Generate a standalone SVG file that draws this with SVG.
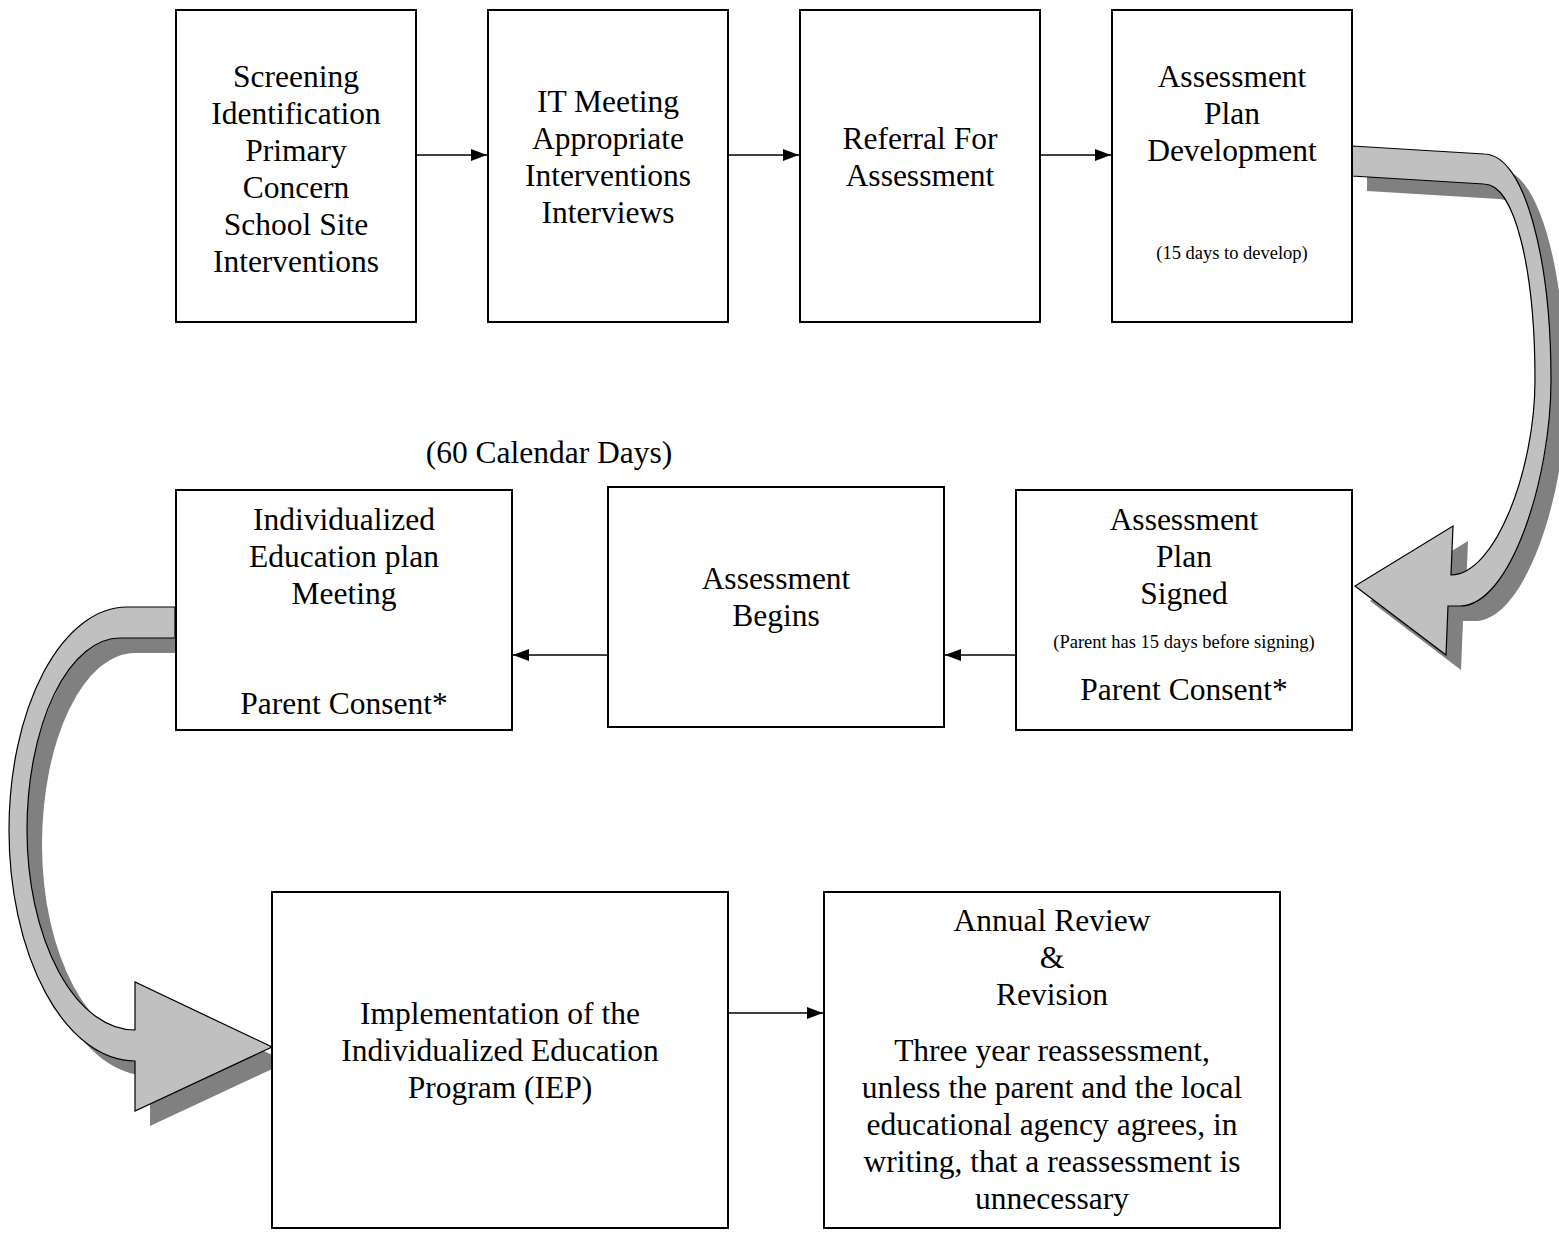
<svg xmlns="http://www.w3.org/2000/svg" width="1559" height="1236" viewBox="0 0 1559 1236">
<style>
.box{fill:#fff;stroke:#000;stroke-width:2}
.t{font-family:"Liberation Serif","Times New Roman",serif;font-size:31.5px;fill:#000;text-anchor:middle}
.s{font-family:"Liberation Serif","Times New Roman",serif;font-size:18.5px;fill:#000;text-anchor:middle}
.con{stroke:#000;stroke-width:1.6;fill:none;marker-end:url(#ah)}
.band{fill:#c0c0c0;stroke:#000;stroke-width:1.2;stroke-linejoin:miter}
.shadow{fill:#808080}
</style>
<defs>
<marker id="ah" markerWidth="16" markerHeight="12" refX="16" refY="6" orient="auto" markerUnits="userSpaceOnUse">
<path d="M0,0 L16,6 L0,12 Z" fill="#000"/>
</marker>
<path id="rightArrow" d="M1352,146 L1484,154 C1525,154 1551,260 1551,380 C1551,480 1510,606 1460,606 L1448,606 L1446,655 L1355,586 L1453,526 L1451,575 C1495,575 1535,470 1535,380 C1535,270 1515,184 1484,184 L1352,176 Z"/>
<path id="leftArrow" d="M175,607 L127,607 A118,223 0 0 0 9,830 A126,231 0 0 0 135,1061 L135,1111 L272,1047 L135,982 L135,1030 A108,200 0 0 1 27,830 A93,192 0 0 1 120,638 L175,638 Z"/>
</defs>
<rect width="1559" height="1236" fill="#fff"/>
<g id="curved-connectors">
<use href="#rightArrow" class="shadow" transform="translate(15,15)"/>
<use href="#leftArrow" class="shadow" transform="translate(15,15)"/>
<use href="#rightArrow" class="band"/>
<use href="#leftArrow" class="band"/>
</g>
<g id="n1"><rect class="box" x="176" y="10" width="240" height="312"/>
<text class="t" x="296" y="87">Screening</text>
<text class="t" x="296" y="124">Identification</text>
<text class="t" x="296" y="161">Primary</text>
<text class="t" x="296" y="198">Concern</text>
<text class="t" x="296" y="235">School Site</text>
<text class="t" x="296" y="272">Interventions</text></g>
<g id="n2"><rect class="box" x="488" y="10" width="240" height="312"/>
<text class="t" x="608" y="112">IT Meeting</text>
<text class="t" x="608" y="149">Appropriate</text>
<text class="t" x="608" y="186">Interventions</text>
<text class="t" x="608" y="223">Interviews</text></g>
<g id="n3"><rect class="box" x="800" y="10" width="240" height="312"/>
<text class="t" x="920" y="149">Referral For</text>
<text class="t" x="920" y="186">Assessment</text></g>
<g id="n4"><rect class="box" x="1112" y="10" width="240" height="312"/>
<text class="t" x="1232" y="87">Assessment</text>
<text class="t" x="1232" y="124">Plan</text>
<text class="t" x="1232" y="161">Development</text>
<text class="s" x="1232" y="259">(15 days to develop)</text></g>
<g id="label60"><text class="t" x="549" y="463">(60 Calendar Days)</text></g>
<g id="n5"><rect class="box" x="176" y="490" width="336" height="240"/>
<text class="t" x="344" y="530">Individualized</text>
<text class="t" x="344" y="567">Education plan</text>
<text class="t" x="344" y="604">Meeting</text>
<text class="t" x="344" y="714">Parent Consent*</text></g>
<g id="n6"><rect class="box" x="608" y="487" width="336" height="240"/>
<text class="t" x="776" y="589">Assessment</text>
<text class="t" x="776" y="626">Begins</text></g>
<g id="n7"><rect class="box" x="1016" y="490" width="336" height="240"/>
<text class="t" x="1184" y="530">Assessment</text>
<text class="t" x="1184" y="567">Plan</text>
<text class="t" x="1184" y="604">Signed</text>
<text class="s" x="1184" y="648">(Parent has 15 days before signing)</text>
<text class="t" x="1184" y="700">Parent Consent*</text></g>
<g id="n8"><rect class="box" x="272" y="892" width="456" height="336"/>
<text class="t" x="500" y="1024">Implementation of the</text>
<text class="t" x="500" y="1061">Individualized Education</text>
<text class="t" x="500" y="1098">Program (IEP)</text></g>
<g id="n9"><rect class="box" x="824" y="892" width="456" height="336"/>
<text class="t" x="1052" y="931">Annual Review</text>
<text class="t" x="1052" y="968">&amp;</text>
<text class="t" x="1052" y="1005">Revision</text>
<text class="t" x="1052" y="1061">Three year reassessment,</text>
<text class="t" x="1052" y="1098">unless the parent and the local</text>
<text class="t" x="1052" y="1135">educational agency agrees, in</text>
<text class="t" x="1052" y="1172">writing, that a reassessment is</text>
<text class="t" x="1052" y="1209">unnecessary</text></g>
<g id="connectors">
<line class="con" x1="417" y1="155" x2="487" y2="155"/>
<line class="con" x1="729" y1="155" x2="799" y2="155"/>
<line class="con" x1="1041" y1="155" x2="1111" y2="155"/>
<line class="con" x1="1015" y1="655" x2="945" y2="655"/>
<line class="con" x1="607" y1="655" x2="513" y2="655"/>
<line class="con" x1="729" y1="1013" x2="823" y2="1013"/>
</g>
</svg>
